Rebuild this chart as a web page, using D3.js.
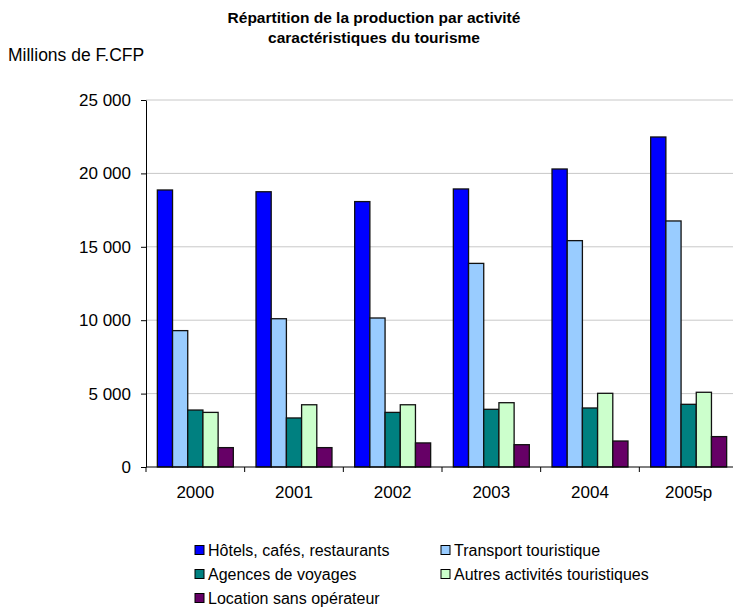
<!DOCTYPE html>
<html>
<head>
<meta charset="utf-8">
<script src="https://cdn.jsdelivr.net/npm/d3@7"></script>
<style>
  html, body { margin: 0; padding: 0; background: #fff; }
  svg { display: block; font-family: Arial, "Liberation Sans", sans-serif; }
</style>
</head>
<body>
<svg id="chart" width="733" height="610"></svg>
<script>
// Production by tourism activity, millions of F.CFP
const years = ["2000", "2001", "2002", "2003", "2004", "2005p"];
const seriesNames = [
  "Hôtels, cafés, restaurants",
  "Transport touristique",
  "Agences de voyages",
  "Autres activités touristiques",
  "Location sans opérateur"
];
const hotels    = [18870, 18750, 18080, 18940, 20300, 22480];
const transport = [9290, 10100, 10150, 13870, 15420, 16760];
const agences   = [3880, 3340, 3720, 3930, 4020, 4270];
const autres    = [3720, 4240, 4240, 4380, 5020, 5090];
const locationSansOp = [1320, 1320, 1640, 1520, 1770, 2070];
const yTicks = [0, 5000, 10000, 15000, 20000, 25000];

const seriesValues = [hotels, transport, agences, autres, locationSansOp];
const colors = ["#0000FF", "#99CCFF", "#008080", "#CCFFCC", "#660066"];

const svg = d3.select("#chart");
const plot = { left: 146, right: 738, top: 100, bottom: 467 };

const y = d3.scaleLinear().domain([0, 25000]).range([plot.bottom, plot.top]);
const x0 = d3.scaleBand().domain(years).range([plot.left, plot.right]).padding(0);
const gap = x0.bandwidth() * 0.115;
const x1 = d3.scaleBand().domain(d3.range(seriesNames.length))
  .range([gap, x0.bandwidth() - gap]).padding(0);

const fmt = v => d3.format(",")(v).replace(/,/g, " ");

// Horizontal gridlines
svg.append("g")
  .selectAll("line")
  .data(yTicks.filter(t => t > 0))
  .join("line")
  .attr("x1", plot.left).attr("x2", plot.right)
  .attr("y1", d => y(d)).attr("y2", d => y(d))
  .attr("stroke", "#c8c8c8").attr("stroke-width", 1);

// Bars
const groups = svg.append("g")
  .selectAll("g")
  .data(years)
  .join("g")
  .attr("transform", d => `translate(${x0(d)},0)`);

groups.selectAll("rect")
  .data((yr, i) => seriesValues.map((vals, s) => ({ s, v: vals[i] })))
  .join("rect")
  .attr("x", d => x1(d.s))
  .attr("width", x1.bandwidth())
  .attr("y", d => y(d.v))
  .attr("height", d => y(0) - y(d.v))
  .attr("fill", d => colors[d.s])
  .attr("stroke", "#111")
  .attr("stroke-width", 1.3);

// Y axis
const yAxis = svg.append("g")
  .attr("transform", `translate(${plot.left},0)`)
  .call(d3.axisLeft(y).tickValues(yTicks).tickFormat(fmt).tickSizeOuter(0).tickSizeInner(5).tickPadding(10));
yAxis.select(".domain").attr("stroke", "#000");
yAxis.selectAll(".tick line").attr("stroke", "#000");
yAxis.selectAll("text").attr("font-size", 17).attr("fill", "#000")
  .attr("font-family", "Arial, 'Liberation Sans', sans-serif");

// X axis: ticks at category boundaries
const boundaries = years.map(d => x0(d)).concat([plot.right]);
const xAxisG = svg.append("g");
xAxisG.append("line")
  .attr("x1", plot.left).attr("x2", plot.right)
  .attr("y1", plot.bottom).attr("y2", plot.bottom)
  .attr("stroke", "#000");
xAxisG.selectAll("line.tick")
  .data(boundaries)
  .join("line")
  .attr("class", "tick")
  .attr("x1", d => d).attr("x2", d => d)
  .attr("y1", plot.bottom).attr("y2", plot.bottom + 5)
  .attr("stroke", "#000");
xAxisG.selectAll("text")
  .data(years)
  .join("text")
  .attr("x", d => x0(d) + x0.bandwidth() / 2)
  .attr("y", 498)
  .attr("text-anchor", "middle")
  .attr("font-size", 17)
  .text(d => d);

// Title
const title = svg.append("text")
  .attr("text-anchor", "middle")
  .attr("font-size", 15.5)
  .attr("font-weight", "bold");
title.append("tspan").attr("x", 374).attr("y", 23).text("Répartition de la production par activité");
title.append("tspan").attr("x", 374).attr("y", 43).text("caractéristiques du tourisme");

// Unit label
svg.append("text")
  .attr("x", 8).attr("y", 61)
  .attr("font-size", 17.5)
  .text("Millions de F.CFP");

// Legend
const legendPos = [
  { x: 195, y: 550 }, { x: 441, y: 550 },
  { x: 195, y: 574 }, { x: 441, y: 574 },
  { x: 195, y: 598 }
];
const legend = svg.append("g")
  .selectAll("g")
  .data(seriesNames)
  .join("g")
  .attr("transform", (d, i) => `translate(${legendPos[i].x},${legendPos[i].y})`);
legend.append("rect")
  .attr("x", 0).attr("y", -4.5)
  .attr("width", 9).attr("height", 9)
  .attr("fill", (d, i) => colors[i])
  .attr("stroke", "#000").attr("stroke-width", 1);
legend.append("text")
  .attr("x", 13).attr("y", 6)
  .attr("font-size", 16)
  .text(d => d);
</script>
</body>
</html>
